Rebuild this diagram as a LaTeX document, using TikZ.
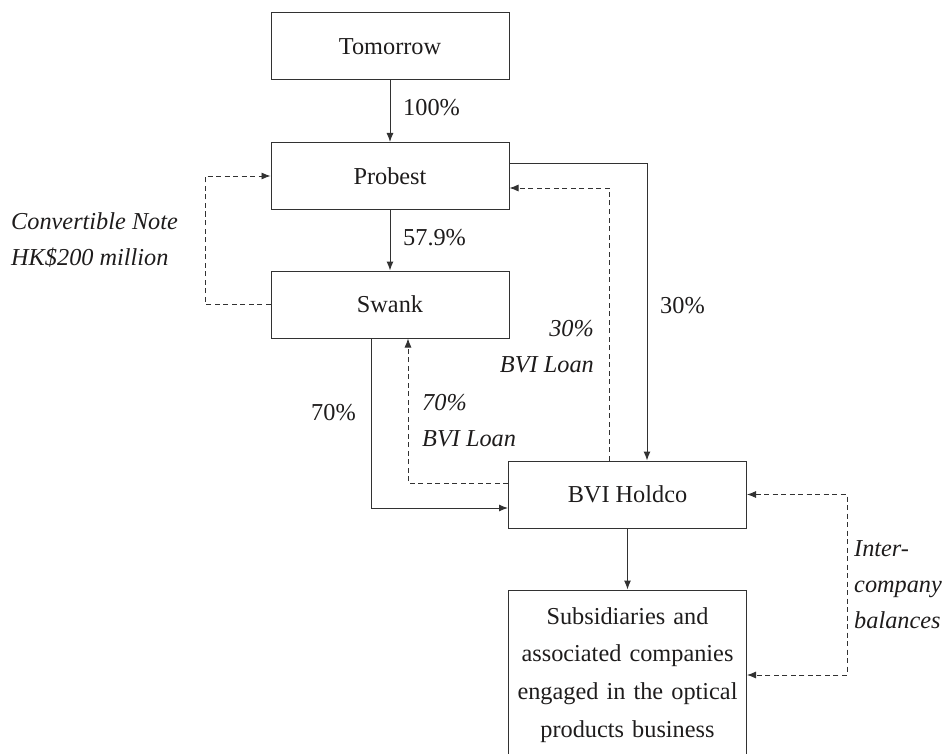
\documentclass[tikz,border=0pt]{standalone}
\usepackage{fontspec}
\setmainfont{Liberation Serif}
\usetikzlibrary{arrows.meta,positioning,calc}
\definecolor{inkgray}{RGB}{50,50,50}
\definecolor{textblack}{RGB}{30,28,28}

\begin{document}
\begin{tikzpicture}[x=1pt,y=-1pt,
  every node/.style={font=\fontsize{24.3}{37.7}\selectfont,text=textblack},
  box/.style={draw=inkgray,line width=1pt,minimum width=238pt,minimum height=67pt,inner sep=0pt},
  lbl/.style={inner sep=0pt},
  ilbl/.style={inner sep=0pt,font=\fontsize{24.3}{36}\selectfont\itshape},
  arr/.style={draw=inkgray,line width=1pt,-{Latex[length=9pt,width=7pt]}},
  darr/.style={draw=inkgray,line width=0.85pt,dash pattern=on 5pt off 3.5pt,-{Latex[length=9pt,width=7pt]}}]
  \useasboundingbox (0,0) rectangle (950,754);
  \clip (0,0) rectangle (950,754);
  % ownership boxes
  \node[box] (tomorrow) at (390,46.5) {Tomorrow};
  \node[box] (probest) at (390,176) {Probest};
  \node[box] (swank) at (390,304.5) {Swank};
  \node[box] (bvi) at (627.5,494.5) {BVI Holdco};
  \node[box,minimum height=170pt,text width=230pt,align=center] (subs) at (627.5,675)
    {Subsidiaries and\\associated companies\\engaged in the optical\\products business};
  % holdings
  \draw[arr] (tomorrow) -- (probest);
  \draw[arr] (probest) -- (swank);
  \draw[arr] (bvi) -- (subs);
  \draw[arr] ([yshift=12pt]probest.east) -| ([xshift=19.5pt]bvi.north);
  \draw[arr] ([xshift=-19pt]swank.south) |- ([yshift=-13.5pt]bvi.west);
  % loans and balances
  \draw[darr] ([xshift=-18.5pt]bvi.north) |- ([yshift=-12pt]probest.east);
  \draw[darr] ([yshift=11.5pt]bvi.west) -| ([xshift=18pt]swank.south);
  \draw[darr] (swank.west) -- ++(-65,0) |- (probest.west);
  \draw[darr,{Latex[length=9pt,width=7pt]}-{Latex[length=9pt,width=7pt]}] (bvi.east) -- ++(100,0) |- (subs.east);
  % labels
  \node[lbl,anchor=west] (p100) at (403,108) {100\%};
  \node[lbl,anchor=west] (p579) at (403,238) {57.9\%};
  \node[lbl,anchor=west] (p30) at (660,306) {30\%};
  \node[lbl,anchor=west] (p70) at (311,413) {70\%};
  \node[ilbl,anchor=west,align=left] (cnote) at (11,240) {Convertible Note\\HK\$200 million};
  \node[ilbl,anchor=east,align=right] (loan30) at (594,347) {30\%\\BVI Loan};
  \node[ilbl,anchor=west,align=left] (loan70) at (422,420.5) {70\%\\BVI Loan};
  \node[ilbl,anchor=west,align=left] (icb) at (854,585) {Inter-\\company\\balances};
\end{tikzpicture}
\end{document}
